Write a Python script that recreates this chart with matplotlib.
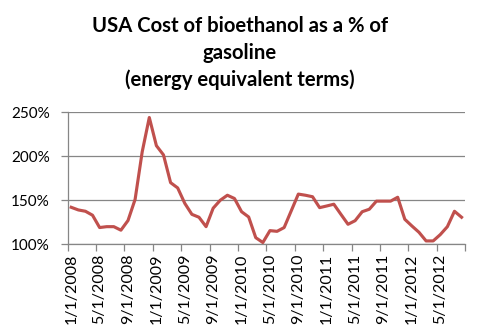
import matplotlib
matplotlib.use("Agg")
import matplotlib.pyplot as plt
from matplotlib.ticker import FixedLocator, FuncFormatter

plt.rcParams['font.family'] = ['Lato', 'DejaVu Sans']

title = "USA Cost of bioethanol as a % of\ngasoline\n(energy equivalent terms)"

# Monthly, 1/1/2008 .. 8/1/2012
months = [f"{m}/1/{y}" for y in range(2008, 2013) for m in range(1, 13)][:56]
values = [142, 139, 137.5, 133, 119, 120, 120, 116, 127, 151,
          205, 244, 212, 201.5, 170, 164, 146.5, 134, 130.7, 120,
          141, 150, 155.7, 152, 137, 131, 107.5, 102, 115.5, 114.7,
          119, 138, 157, 155.7, 154, 141.6, 143.5, 145.5, 134, 122.7,
          126.8, 137, 139.8, 149, 149, 149, 153.4, 128.4, 120.8, 113.6,
          103.8, 103.8, 111, 120, 137.5, 130.7]
yticks = [100, 150, 200, 250]

fig = plt.figure(figsize=(4.8, 3.36), dpi=100)
ax = fig.add_axes([0.141, 0.273, 0.828, 0.393])

x = list(range(len(values)))
ax.plot(x, values, color='#C0504D', lw=2.25, solid_joinstyle='round', zorder=3)

ax.set_xlim(-0.5, len(values) - 0.5)
ax.set_ylim(100, 250)

grid_c = '#868686'
ax.set_yticks(yticks)
ax.yaxis.set_major_formatter(FuncFormatter(lambda v, p: f"{int(v)}%"))
ax.grid(axis='y', color=grid_c, lw=0.9)
ax.set_axisbelow(True)

# x: tick marks between categories, labels every 4 months
ax.xaxis.set_major_locator(FixedLocator([i - 0.5 for i in range(0, len(values) + 1, 4)]))
ax.xaxis.set_minor_locator(FixedLocator(list(range(0, len(values), 4))))
ax.xaxis.set_major_formatter(FuncFormatter(lambda v, p: ""))
ax.xaxis.set_minor_formatter(FuncFormatter(lambda v, p: months[int(round(v))]))
ax.tick_params(axis='x', which='major', length=5, width=0.9, color=grid_c)
ax.tick_params(axis='x', which='minor', length=0, pad=6.5, labelsize=11.5, labelrotation=90)
ax.tick_params(axis='y', length=5, width=0.9, color=grid_c, labelsize=11, pad=8)
for lab in ax.xaxis.get_minorticklabels():
    lab.set_va('top')
    lab.set_ha('center')

for s in ['top', 'right']:
    ax.spines[s].set_visible(False)
for s in ['left', 'bottom']:
    ax.spines[s].set_color(grid_c)
    ax.spines[s].set_linewidth(0.9)

fig.text(0.5, 1 - 86 / 336, title, ha='center', va='baseline', fontsize=14.6,
         fontweight='bold', linespacing=1.4, multialignment='center')

fig.savefig('out.png', dpi=100, facecolor='white')
